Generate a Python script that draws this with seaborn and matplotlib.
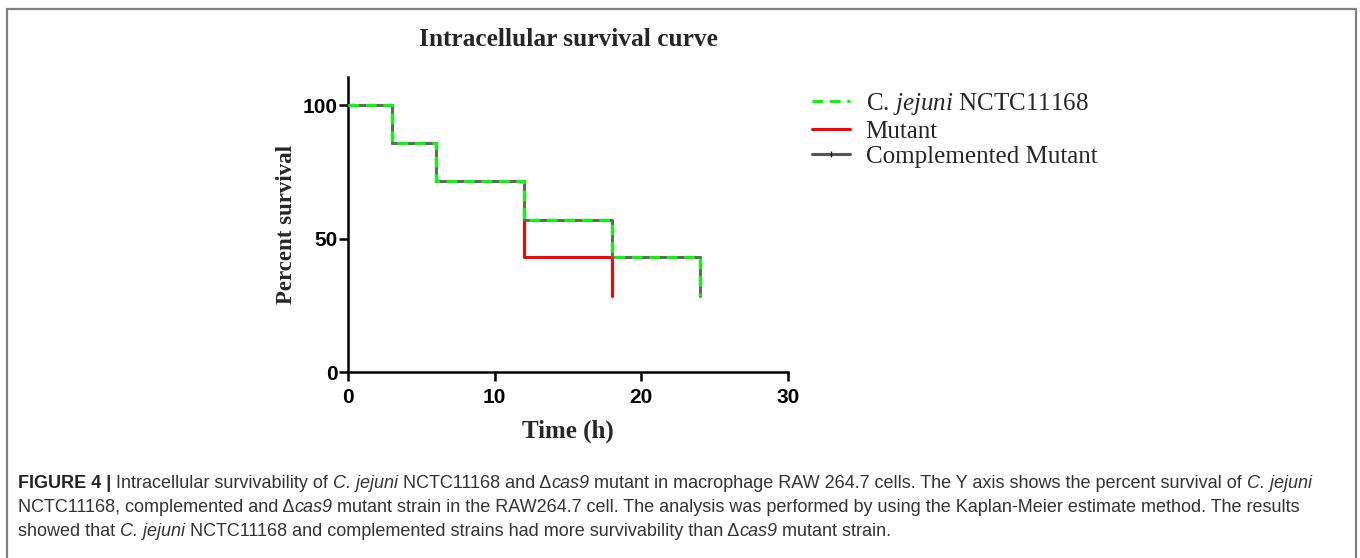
import matplotlib
matplotlib.use("Agg")
import matplotlib.pyplot as plt
import seaborn as sns
import pandas as pd
from matplotlib.lines import Line2D
from matplotlib.patches import Rectangle
from matplotlib import font_manager

# ---------------- data ----------------
wt_time = [0, 3, 6, 12, 18, 24]
wt_surv = [100, 85.7, 71.4, 57.1, 42.9, 28.6]
mut_time = [0, 3, 6, 12, 18]
mut_surv = [100, 85.7, 71.4, 42.9, 28.6]
comp_time = [0, 3, 6, 12, 18, 24]
comp_surv = [100, 85.7, 71.4, 57.1, 42.9, 28.6]
x_ticks = [0, 10, 20, 30]
y_ticks = [0, 50, 100]
series_labels = ["C. $\\mathit{jejuni}$ NCTC11168", "Mutant", "Complemented Mutant"]

sns.set_theme(style="white")
plt.rcParams["mathtext.fontset"] = "custom"
plt.rcParams["mathtext.rm"] = "Liberation Serif"
plt.rcParams["mathtext.it"] = "Liberation Serif:italic"

SERIF = "Liberation Serif"
SANS = "Liberation Sans"
try:
    font_manager.findfont("Liberation Sans Narrow", fallback_to_default=False)
    CAP = "Liberation Sans Narrow"
except Exception:
    CAP = "Liberation Sans"

fig = plt.figure(figsize=(13.6, 5.58), dpi=100)
W, H = 1360, 558
ax = fig.add_axes([348 / W, 1 - 372 / H, (788 - 348) / W, (372 - 77) / H])

df_wt = pd.DataFrame({"t": wt_time, "s": wt_surv})
df_mut = pd.DataFrame({"t": mut_time, "s": mut_surv})
df_comp = pd.DataFrame({"t": comp_time, "s": comp_surv})

sns.lineplot(data=df_mut, x="t", y="s", ax=ax, color="#ff0000", lw=2.2,
             drawstyle="steps-post", estimator=None, sort=False, zorder=2)
sns.lineplot(data=df_comp, x="t", y="s", ax=ax, color="#666666", lw=2.2,
             drawstyle="steps-post", estimator=None, sort=False, zorder=3)
sns.lineplot(data=df_wt, x="t", y="s", ax=ax, color="#00ff00", lw=2.2,
             drawstyle="steps-post", estimator=None, sort=False, zorder=4,
             dashes=False, linestyle=(0, (3.5, 2.2)))

ax.set_xlim(0, 30)
ax.set_ylim(0, 110.5)
ax.set_xticks(x_ticks)
ax.set_yticks(y_ticks)
ax.set_xticklabels([str(v) for v in x_ticks], fontfamily=SANS, fontweight="bold", fontsize=15)
ax.set_yticklabels([str(v) for v in y_ticks], fontfamily=SANS, fontweight="bold", fontsize=15)
for side in ["top", "right"]:
    ax.spines[side].set_visible(False)
for side in ["left", "bottom"]:
    ax.spines[side].set_color("black")
    ax.spines[side].set_linewidth(1.8)
ax.tick_params(axis="both", direction="out", length=6.5, width=1.8, color="black",
               bottom=True, left=True, pad=1, labelcolor="black")
ax.tick_params(axis="x", pad=5)
ax.set_xlabel("Time (h)", fontfamily=SERIF, fontweight="bold", fontsize=18, labelpad=9)
ax.set_ylabel("Percent survival", fontfamily=SERIF, fontweight="bold", fontsize=16.5, labelpad=4)
ax.set_title("Intracellular survival curve", fontfamily=SERIF, fontweight="bold",
             fontsize=18.3, pad=22)
ax.set_facecolor("white")

handles = [
    Line2D([], [], color="#00ff00", lw=2.2, linestyle=(0, (3.5, 2.2))),
    Line2D([], [], color="#ff0000", lw=2.2),
    Line2D([], [], color="#555555", lw=2.2, marker="|", markersize=4,
           markeredgecolor="black", markevery=[1]),
]
leg = fig.legend(handles, series_labels, loc="upper left",
                 bbox_to_anchor=(802 / W, 1 - 81 / H), frameon=False,
                 prop={"family": SERIF, "size": 18}, handlelength=1.52,
                 handletextpad=0.62, labelspacing=0.12, borderaxespad=0)

# frame
fig.patches.append(Rectangle((7 / W, -0.02), (1356 - 7) / W, 1 - 9 / H + 0.02,
                             transform=fig.transFigure, fill=False,
                             edgecolor="#808080", lw=1.6))

# ---------------- caption ----------------
renderer = fig.canvas.get_renderer()
cap_color = "#333333"

def width_of(s, size, weight="normal", style="normal"):
    t1 = fig.text(0, 0, "|" + s + "|", fontsize=size, fontfamily=CAP, fontweight=weight, fontstyle=style)
    t2 = fig.text(0, 0, "||", fontsize=size, fontfamily=CAP, fontweight=weight, fontstyle=style)
    w = t1.get_window_extent(renderer).width - t2.get_window_extent(renderer).width
    t1.remove(); t2.remove()
    return w

lines = [
    [("FIGURE 4 | ", "bold", "normal"), ("Intracellular survivability of ", "normal", "normal"),
     ("C. jejuni", "normal", "italic"), (" NCTC11168 and \u0394", "normal", "normal"),
     ("cas9", "normal", "italic"),
     (" mutant in macrophage RAW 264.7 cells. The Y axis shows the percent survival of ", "normal", "normal"),
     ("C. jejuni", "normal", "italic")],
    [("NCTC11168, complemented and \u0394", "normal", "normal"), ("cas9", "normal", "italic"),
     (" mutant strain in the RAW264.7 cell. The analysis was performed by using the Kaplan-Meier estimate method. The results", "normal", "normal")],
    [("showed that ", "normal", "normal"), ("C. jejuni", "normal", "italic"),
     (" NCTC11168 and complemented strains had more survivability than \u0394", "normal", "normal"),
     ("cas9", "normal", "italic"), (" mutant strain.", "normal", "normal")],
]

base = 11.0
w0 = sum(width_of(s, base, wt, st) for s, wt, st in lines[0])
size = base * (1343 - 18) / w0
size = min(size, 13.0)

y_px = [484, 508, 531]
for line, yp in zip(lines, y_px):
    x = 18.0
    for s, wt, st in line:
        fig.text(x / W, 1 - yp / H, s, fontsize=size, fontfamily=CAP, fontweight=wt,
                 fontstyle=st, color=("#222222" if wt == "bold" else cap_color), va="center", ha="left")
        x += width_of(s, size, wt, st)

fig.savefig("out.png", dpi=100, facecolor="white")
